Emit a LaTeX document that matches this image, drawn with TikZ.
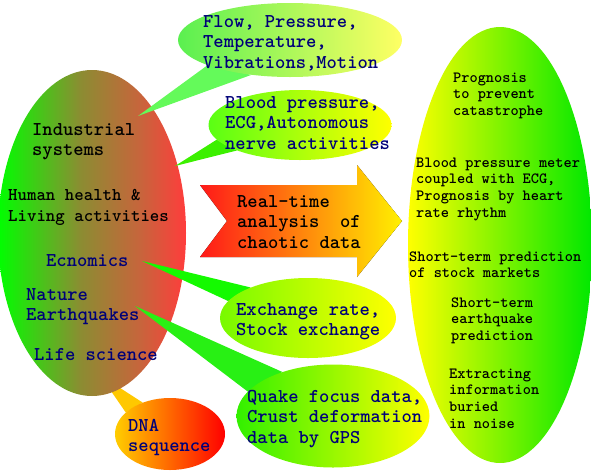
\documentclass[tikz,border=0pt]{standalone}
\usepackage{fontspec}
\usetikzlibrary{shapes.geometric}

\pgfdeclarelayer{back}
\pgfdeclarelayer{tails}
\pgfsetlayers{back,tails,main}

\newcommand{\stack}[1]{\begin{tabular}[t]{@{}l@{}}#1\end{tabular}}

\definecolor{navytxt}{RGB}{0,0,120}
\definecolor{egga}{RGB}{0,255,0}
\definecolor{eggb}{RGB}{140,140,50}
\definecolor{eggc}{RGB}{200,100,60}
\definecolor{eggd}{RGB}{255,60,60}
\pgfdeclarehorizontalshading{eggshade}{100bp}{color(0bp)=(egga); color(25bp)=(egga); color(47bp)=(eggb); color(63bp)=(eggc); color(75bp)=(eggd); color(100bp)=(eggd)}
% bubble colours
\definecolor{flowl}{RGB}{90,240,80}
\definecolor{flowr}{RGB}{255,255,100}
\definecolor{ecgl}{RGB}{90,255,20}
\definecolor{xchl}{RGB}{120,250,0}
\definecolor{quakel}{RGB}{50,240,0}
\definecolor{bubr}{RGB}{255,255,0}
\definecolor{dnal}{RGB}{255,205,0}
\definecolor{dnar}{RGB}{255,0,0}
\definecolor{goalr}{RGB}{0,232,0}
\definecolor{arrl}{RGB}{255,25,25}
\definecolor{arrm}{RGB}{255,150,0}
\definecolor{arrr}{RGB}{255,240,0}
% tail colours
\definecolor{tailflow}{RGB}{100,250,90}
\definecolor{tailecg}{RGB}{60,240,0}
\definecolor{tailxch}{RGB}{20,250,0}
\definecolor{tailquake}{RGB}{40,240,20}
\definecolor{taildna}{RGB}{255,200,0}

\begin{document}
\begin{tikzpicture}[
    x=1pt, y=-1pt,
    bubble/.style={ellipse, inner sep=0pt},
    big/.style={font=\ttfamily\bfseries\fontsize{19.6}{20.6}\selectfont, anchor=base west, inner sep=0pt},
    mid/.style={font=\ttfamily\bfseries\fontsize{18}{21.5}\selectfont, anchor=base west, inner sep=0pt},
    small/.style={font=\ttfamily\bfseries\fontsize{15.6}{16.7}\selectfont, anchor=base west, inner sep=0pt},
    navy/.style={text=navytxt}
]
\useasboundingbox (0,0) rectangle (591,472);

% tips of the callouts
\coordinate (indtip) at (138,116);
\coordinate (hlttip) at (175,166);
\coordinate (ecntip) at (142,261);
\coordinate (nattip) at (135,306);
\coordinate (lifetip) at (100,375);

% callout bubbles
\node[bubble, minimum width=224pt, minimum height=74pt, left color=flowl, right color=flowr] (flow) at (290,40) {};
\node[bubble, minimum width=183pt, minimum height=70pt, left color=ecgl, right color=bubr] (ecg) at (300,125) {};
\node[bubble, minimum width=176pt, minimum height=80pt, left color=xchl, right color=bubr] (xch) at (308,318) {};
\node[bubble, minimum width=193pt, minimum height=103pt, left color=quakel, right color=bubr] (quake) at (333,416) {};
\node[bubble, minimum width=110pt, minimum height=72pt, left color=dnal, right color=dnar] (dna) at (170,434) {};

% fields egg, with the DNA tail under it
\begin{pgfonlayer}{back}
  \fill[taildna] (lifetip) -- (dna.131) -- (dna.154) -- cycle;
  \node[bubble, shading=eggshade, minimum width=188pt, minimum height=326pt] (fields) at (92,233) {};
\end{pgfonlayer}

% callout tails
\begin{pgfonlayer}{tails}
  \fill[tailflow] (indtip) -- (flow.197) -- (flow.222) -- cycle;
  \fill[tailecg] (hlttip) -- (ecg.190) -- (ecg.202) -- cycle;
  \fill[tailxch] (ecntip) -- (xch.152) -- (xch.168) -- cycle;
  \fill[tailquake] (nattip) -- (quake.139) -- (quake.164) -- cycle;
\end{pgfonlayer}

% goals egg
\node[bubble, minimum width=184pt, minimum height=436pt, left color=bubr, right color=goalr] (goals) at (500,245) {};

% analysis arrow
\fill[left color=arrl, middle color=arrm, right color=arrr]
  (200,185) -- (357,185) -- (357,165) -- (402,221) -- (357,277) -- (357,257) -- (200,257) -- (227,221) -- cycle;

% fields
\node[big] (tind) at (32,135) {\stack{Industrial\\systems}};
\node[mid] (thum) at (8,200) {\stack{Human health \&\\Living activities}};
\node[big, navy] (tecn) at (46,266) {Ecnomics};
\node[big, navy] (tnat) at (26,300) {\stack{Nature\\Earthquakes}};
\node[big, navy] (tlife) at (34,360) {Life science};

% measured data
\node[big, navy] (tflow) at (203,27) {\stack{Flow, Pressure,\\Temperature,\\Vibrations,Motion}};
\node[big, navy] (tecg) at (225,108) {\stack{Blood pressure,\\ECG,Autonomous\\nerve activities}};
\node[big, navy] (txch) at (236,315) {\stack{Exchange rate,\\Stock exchange}};
\node[big, navy] (tquake) at (247,402) {\stack{Quake focus data,\\Crust deformation\\data by GPS}};
\node[big, navy] (tdna) at (128,431) {\stack{DNA\\sequence}};

\node[big] (tarrow) at (237,207) {\stack{Real-time\\analysis\ \ of\\chaotic data}};

% applications
\node[small] (tprog) at (453,82) {\stack{Prognosis\\to prevent\\catastrophe}};
\node[small] (tbpm) at (416,167) {\stack{Blood pressure meter\\coupled with ECG,\\Prognosis by heart\\rate rhythm}};
\node[small] (tstock) at (409,261) {\stack{Short-term prediction\\of stock markets}};
\node[small] (tqpred) at (451,307) {\stack{Short-term\\earthquake\\prediction}};
\node[small] (textr) at (449,378) {\stack{Extracting\\information\\buried\\in noise}};

\end{tikzpicture}
\end{document}
